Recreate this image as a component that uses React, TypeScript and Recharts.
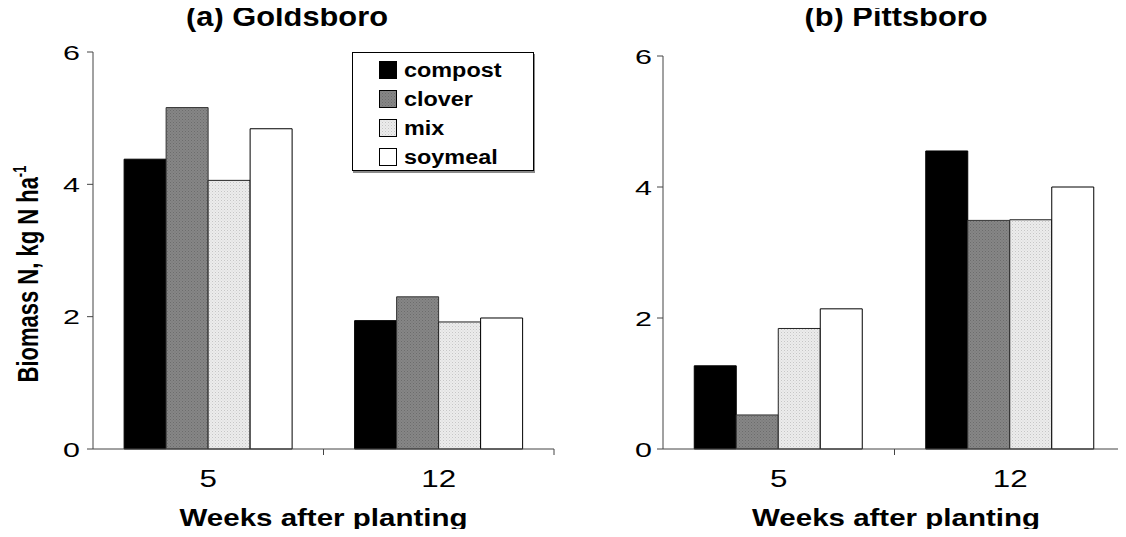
import { BarChart, Bar, XAxis, YAxis, Legend } from 'recharts';

const FONT = '"Liberation Sans", Arial, Helvetica, sans-serif';

// weeks after planting (x categories)
const weeks = ['5', '12'];
const yTicks = [0, 2, 4, 6];

// (a) Goldsboro, kg N/ha
const goldsboroCompost = [4.38, 1.94];
const goldsboroClover = [5.16, 2.3];
const goldsboroMix = [4.06, 1.92];
const goldsboroSoymeal = [4.84, 1.98];

// (b) Pittsboro, kg N/ha
const pittsboroCompost = [1.27, 4.55];
const pittsboroClover = [0.52, 3.49];
const pittsboroMix = [1.84, 3.5];
const pittsboroSoymeal = [2.14, 4.0];

const seriesKeys = ['compost', 'clover', 'mix', 'soymeal'];
const seriesStroke = ['#000', '#333', '#222', '#000'];

const goldsboroData = weeks.map((w, i) => ({
  week: w,
  compost: goldsboroCompost[i],
  clover: goldsboroClover[i],
  mix: goldsboroMix[i],
  soymeal: goldsboroSoymeal[i],
}));

const pittsboroData = weeks.map((w, i) => ({
  week: w,
  compost: pittsboroCompost[i],
  clover: pittsboroClover[i],
  mix: pittsboroMix[i],
  soymeal: pittsboroSoymeal[i],
}));

function fillFor(key: string, prefix: string) {
  if (key === 'compost') return '#000';
  if (key === 'clover') return `url(#${prefix}-clover)`;
  if (key === 'mix') return `url(#${prefix}-mix)`;
  return '#fff';
}

function Patterns({ prefix }: { prefix: string }) {
  return (
    <defs>
      <pattern id={`${prefix}-clover`} width="3" height="3" patternUnits="userSpaceOnUse">
        <rect width="3" height="3" fill="#868686" />
        <rect width="1" height="1" fill="#6c6c6c" />
        <rect x="1.5" y="1.5" width="1" height="1" fill="#727272" />
      </pattern>
      <pattern id={`${prefix}-mix`} width="3" height="3" patternUnits="userSpaceOnUse">
        <rect width="3" height="3" fill="#ececec" />
        <rect width="1" height="1" fill="#c6c6c6" />
        <rect x="1.5" y="1.5" width="1" height="1" fill="#d4d4d4" />
      </pattern>
    </defs>
  );
}

function YTick(props: any) {
  const { x, y, payload } = props;
  return (
    <text
      transform={`translate(${x},${y}) scale(1.45,1)`}
      textAnchor="end"
      dy="0.36em"
      fontSize={21}
      fontFamily={FONT}
      fill="#000"
    >
      {payload.value}
    </text>
  );
}

// category label at band centre, plus a tick mark at the band's right edge
function WeekTick(props: any) {
  const { x, y, payload, band } = props;
  return (
    <g>
      <line x1={x + band / 2} y1={y} x2={x + band / 2} y2={y + 6} stroke="#444" />
      <text
        transform={`translate(${x},${y + 38}) scale(1.36,1)`}
        textAnchor="middle"
        fontSize={23}
        fontFamily={FONT}
        fill="#000"
      >
        {payload.value}
      </text>
    </g>
  );
}

function XTitle({ cx }: { cx: number }) {
  return (
    <text
      x={cx}
      y={518}
      textAnchor="middle"
      fontSize={23}
      fontWeight="bold"
      fontFamily={FONT}
      fill="#000"
      textLength={288}
      lengthAdjust="spacingAndGlyphs"
    >
      Weeks after planting
    </text>
  );
}

function YTitle() {
  return (
    <text
      transform="translate(30,266) rotate(-90) scale(1,1.35)"
      textAnchor="middle"
      fontSize={22}
      fontWeight="bold"
      fontFamily={FONT}
      fill="#000"
    >
      Biomass N, kg N ha
      <tspan dy={-9} fontSize={13}>
        -1
      </tspan>
    </text>
  );
}

function SeriesLegend(props: any) {
  const payload = [...(props.payload || [])].sort(
    (a: any, b: any) => seriesKeys.indexOf(a.value) - seriesKeys.indexOf(b.value),
  );
  return (
    <div
      style={{
        width: 182,
        height: 119,
        boxSizing: 'border-box',
        border: '1px solid #000',
        boxShadow: '1px 2px 0 #8a8a8a',
        background: '#fff',
        paddingTop: 2,
        paddingLeft: 26,
        fontFamily: FONT,
      }}
    >
      {payload.map((entry: any) => (
        <div key={entry.value} style={{ height: 29, display: 'flex', alignItems: 'center' }}>
          <svg width={18} height={18} style={{ display: 'block' }}>
            <rect x={0.5} y={0.5} width={17} height={17} fill={entry.color} stroke="#000" />
          </svg>
          <span
            style={{
              marginLeft: 7,
              fontSize: 20,
              fontWeight: 'bold',
              display: 'inline-block',
              transform: 'scaleX(1.17)',
              transformOrigin: 'left center',
              color: '#000',
              lineHeight: '20px',
            }}
          >
            {entry.value}
          </span>
        </div>
      ))}
    </div>
  );
}

function Panel({ data, prefix, width, margin, band, tickMargin, titleX, withLegend, withYTitle }: any) {
  return (
    <BarChart
      width={width}
      height={529}
      data={data}
      margin={margin}
      barGap={0}
      barCategoryGap="13.5%"
    >
      <Patterns prefix={prefix} />
      <XAxis
        dataKey="week"
        height={60}
        axisLine={{ stroke: '#444' }}
        tickLine={false}
        tickSize={0}
        tickMargin={0}
        interval={0}
        tick={(p: any) => <WeekTick {...p} band={band} />}
        label={() => <XTitle cx={titleX} />}
      />
      <YAxis
        width={40}
        domain={[0, 6]}
        ticks={yTicks}
        axisLine={{ stroke: '#444' }}
        tickLine={{ stroke: '#444' }}
        tickSize={6}
        tickMargin={tickMargin}
        tick={(p: any) => <YTick {...p} />}
        label={withYTitle ? () => <YTitle /> : undefined}
      />
      {withLegend && (
        <Legend
          layout="horizontal"
          verticalAlign="middle"
          align="center"
          content={(p: any) => <SeriesLegend {...p} />}
          wrapperStyle={{ position: 'absolute', left: 344, top: 44, width: 182, height: 119 }}
        />
      )}
      {seriesKeys.map((k, i) => (
        <Bar
          key={k}
          dataKey={k}
          name={k}
          fill={fillFor(k, prefix)}
          stroke={seriesStroke[i]}
          strokeWidth={1}
          isAnimationActive={false}
        />
      ))}
    </BarChart>
  );
}

const titleStyle: any = {
  position: 'absolute',
  width: 300,
  textAlign: 'center',
  fontFamily: FONT,
  fontWeight: 'bold',
  fontSize: 28,
  lineHeight: '28px',
  top: -5,
  transform: 'scaleX(1.1)',
  color: '#000',
  whiteSpace: 'nowrap',
};

export default function App() {
  return (
    <div
      style={{
        position: 'relative',
        width: 1118,
        height: 529,
        marginBottom: -8,
        background: '#fff',
      }}
    >
      <div style={{ ...titleStyle, left: 287 - 8 - 150 }}>(a) Goldsboro</div>
      <div style={{ ...titleStyle, left: 896 - 8 - 150 }}>(b) Pittsboro</div>
      <div style={{ position: 'absolute', left: 0, top: 0 }}>
        <Panel
          data={goldsboroData}
          prefix="gold"
          width={560}
          margin={{ top: 44, right: 14, bottom: 28, left: 45 }}
          band={230.5}
          tickMargin={7}
          titleX={315.5}
          withLegend
          withYTitle
        />
      </div>
      <div style={{ position: 'absolute', left: 563, top: 0 }}>
        <Panel
          data={pittsboroData}
          prefix="pitt"
          width={555}
          margin={{ top: 48, right: 0, bottom: 28, left: 52 }}
          band={231.5}
          tickMargin={5}
          titleX={325}
        />
      </div>
    </div>
  );
}
